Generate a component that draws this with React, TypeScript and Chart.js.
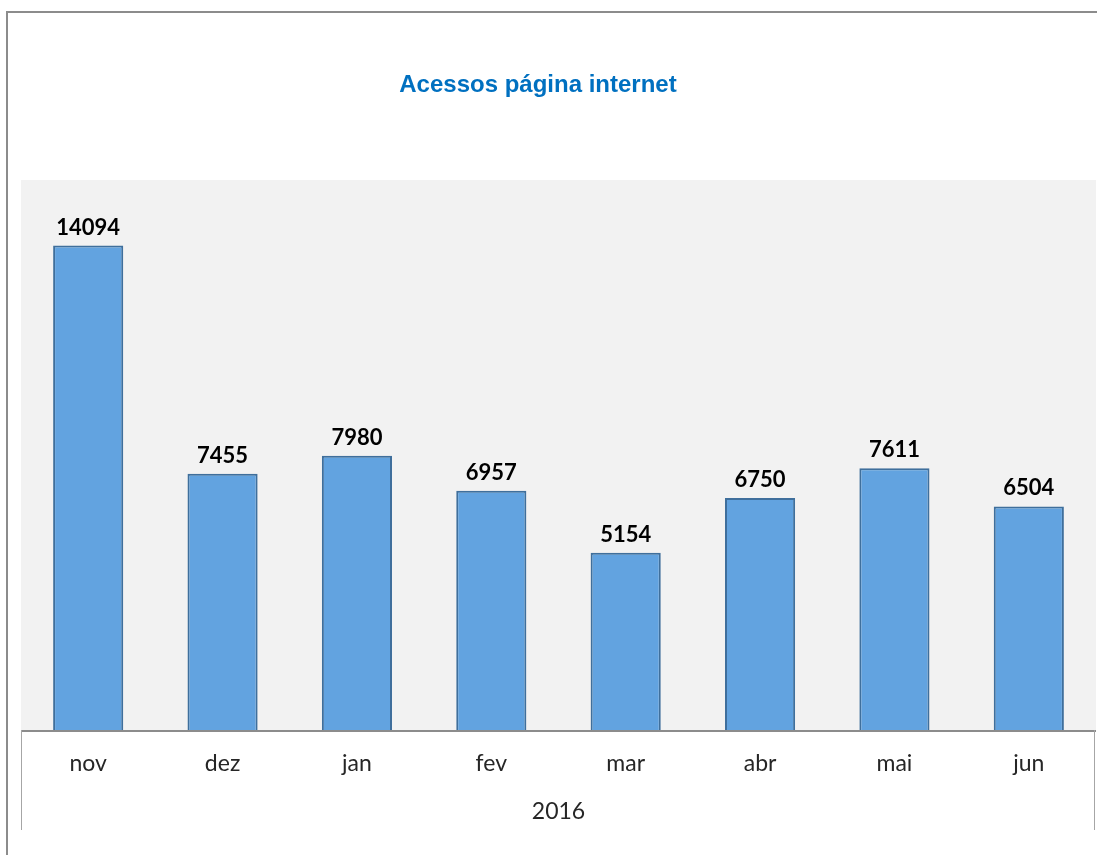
import React, { useEffect, useRef } from "react";
import { Chart, registerables } from "chart.js";

Chart.register(...registerables);

const categories = ["nov", "dez", "jan", "fev", "mar", "abr", "mai", "jun"];
const accesses = [14094, 7455, 7980, 6957, 5154, 6750, 7611, 6504];
const yearLabel = "2016";
const titleText = "Acessos página internet";

const decorPlugin = {
  id: "decor",
  beforeDraw(chart: any) {
    const { ctx, chartArea } = chart;
    ctx.save();
    ctx.fillStyle = "#ffffff";
    ctx.fillRect(0, 0, chart.width, chart.height);
    ctx.fillStyle = "#f2f2f2";
    ctx.fillRect(chartArea.left, chartArea.top, chartArea.right - chartArea.left, chartArea.bottom - chartArea.top);
    ctx.restore();
  },
  afterDatasetsDraw(chart: any) {
    const { ctx, chartArea } = chart;
    const xScale = chart.scales.x;
    ctx.save();
    // outer border
    ctx.strokeStyle = "#8c8c8c";
    ctx.lineWidth = 2;
    ctx.beginPath();
    ctx.moveTo(7, chart.height);
    ctx.lineTo(7, 12);
    ctx.lineTo(chart.width, 12);
    ctx.stroke();
    // axis line
    ctx.strokeStyle = "#8c8c8c";
    ctx.lineWidth = 2;
    ctx.beginPath();
    ctx.moveTo(chartArea.left, chartArea.bottom + 1);
    ctx.lineTo(chartArea.right, chartArea.bottom + 1);
    ctx.stroke();
    // group separators
    ctx.strokeStyle = "#a6a6a6";
    ctx.lineWidth = 1;
    ctx.beginPath();
    ctx.moveTo(chartArea.left + 0.5, chartArea.bottom);
    ctx.lineTo(chartArea.left + 0.5, chartArea.bottom + 100);
    ctx.moveTo(chartArea.right - 1.5, chartArea.bottom);
    ctx.lineTo(chartArea.right - 1.5, chartArea.bottom + 100);
    ctx.stroke();
    // category labels
    ctx.fillStyle = "#262626";
    ctx.font = "23px Lato";
    ctx.textAlign = "center";
    ctx.textBaseline = "middle";
    categories.forEach((c, i) => {
      ctx.fillText(c, xScale.getPixelForValue(i), chartArea.bottom + 34);
    });
    ctx.fillText(yearLabel, (chartArea.left + chartArea.right) / 2, chartArea.bottom + 82);
    // data labels
    const meta = chart.getDatasetMeta(0);
    ctx.fillStyle = "#000000";
    ctx.font = "bold 22px Lato";
    ctx.textBaseline = "alphabetic";
    meta.data.forEach((bar: any, i: number) => {
      ctx.fillText(String(accesses[i]), bar.x, bar.y - 11);
    });
    // title
    ctx.fillStyle = "#0070c0";
    ctx.font = "bold 24px 'Liberation Sans', Arial";
    ctx.textBaseline = "middle";
    ctx.fillText(titleText, 538, 85);
    ctx.restore();
  },
};

export default function App() {
  const ref = useRef<HTMLCanvasElement>(null);
  useEffect(() => {
    if (!ref.current) return;
    const chart = new Chart(ref.current, {
      type: "bar",
      data: {
        labels: categories,
        datasets: [
          {
            data: accesses,
            backgroundColor: "#62a3e0",
            borderColor: "#3f6f9c",
            borderWidth: 2,
            categoryPercentage: 1,
            barPercentage: 0.522,
          },
        ],
      },
      options: {
        responsive: false,
        animation: false,
        devicePixelRatio: 1,
        layout: { padding: { left: 21, top: 180, right: 1, bottom: 125 } },
        plugins: { legend: { display: false }, tooltip: { enabled: false }, title: { display: false } },
        scales: {
          x: { display: false },
          y: { display: false, min: 0, max: 16000 },
        },
      },
      plugins: [decorPlugin],
    });
    return () => chart.destroy();
  }, []);
  return (
    <div style={{ position: "fixed", left: 0, top: 0, width: 1097, height: 855 }}>
      <canvas ref={ref} width={1097} height={855} />
    </div>
  );
}
